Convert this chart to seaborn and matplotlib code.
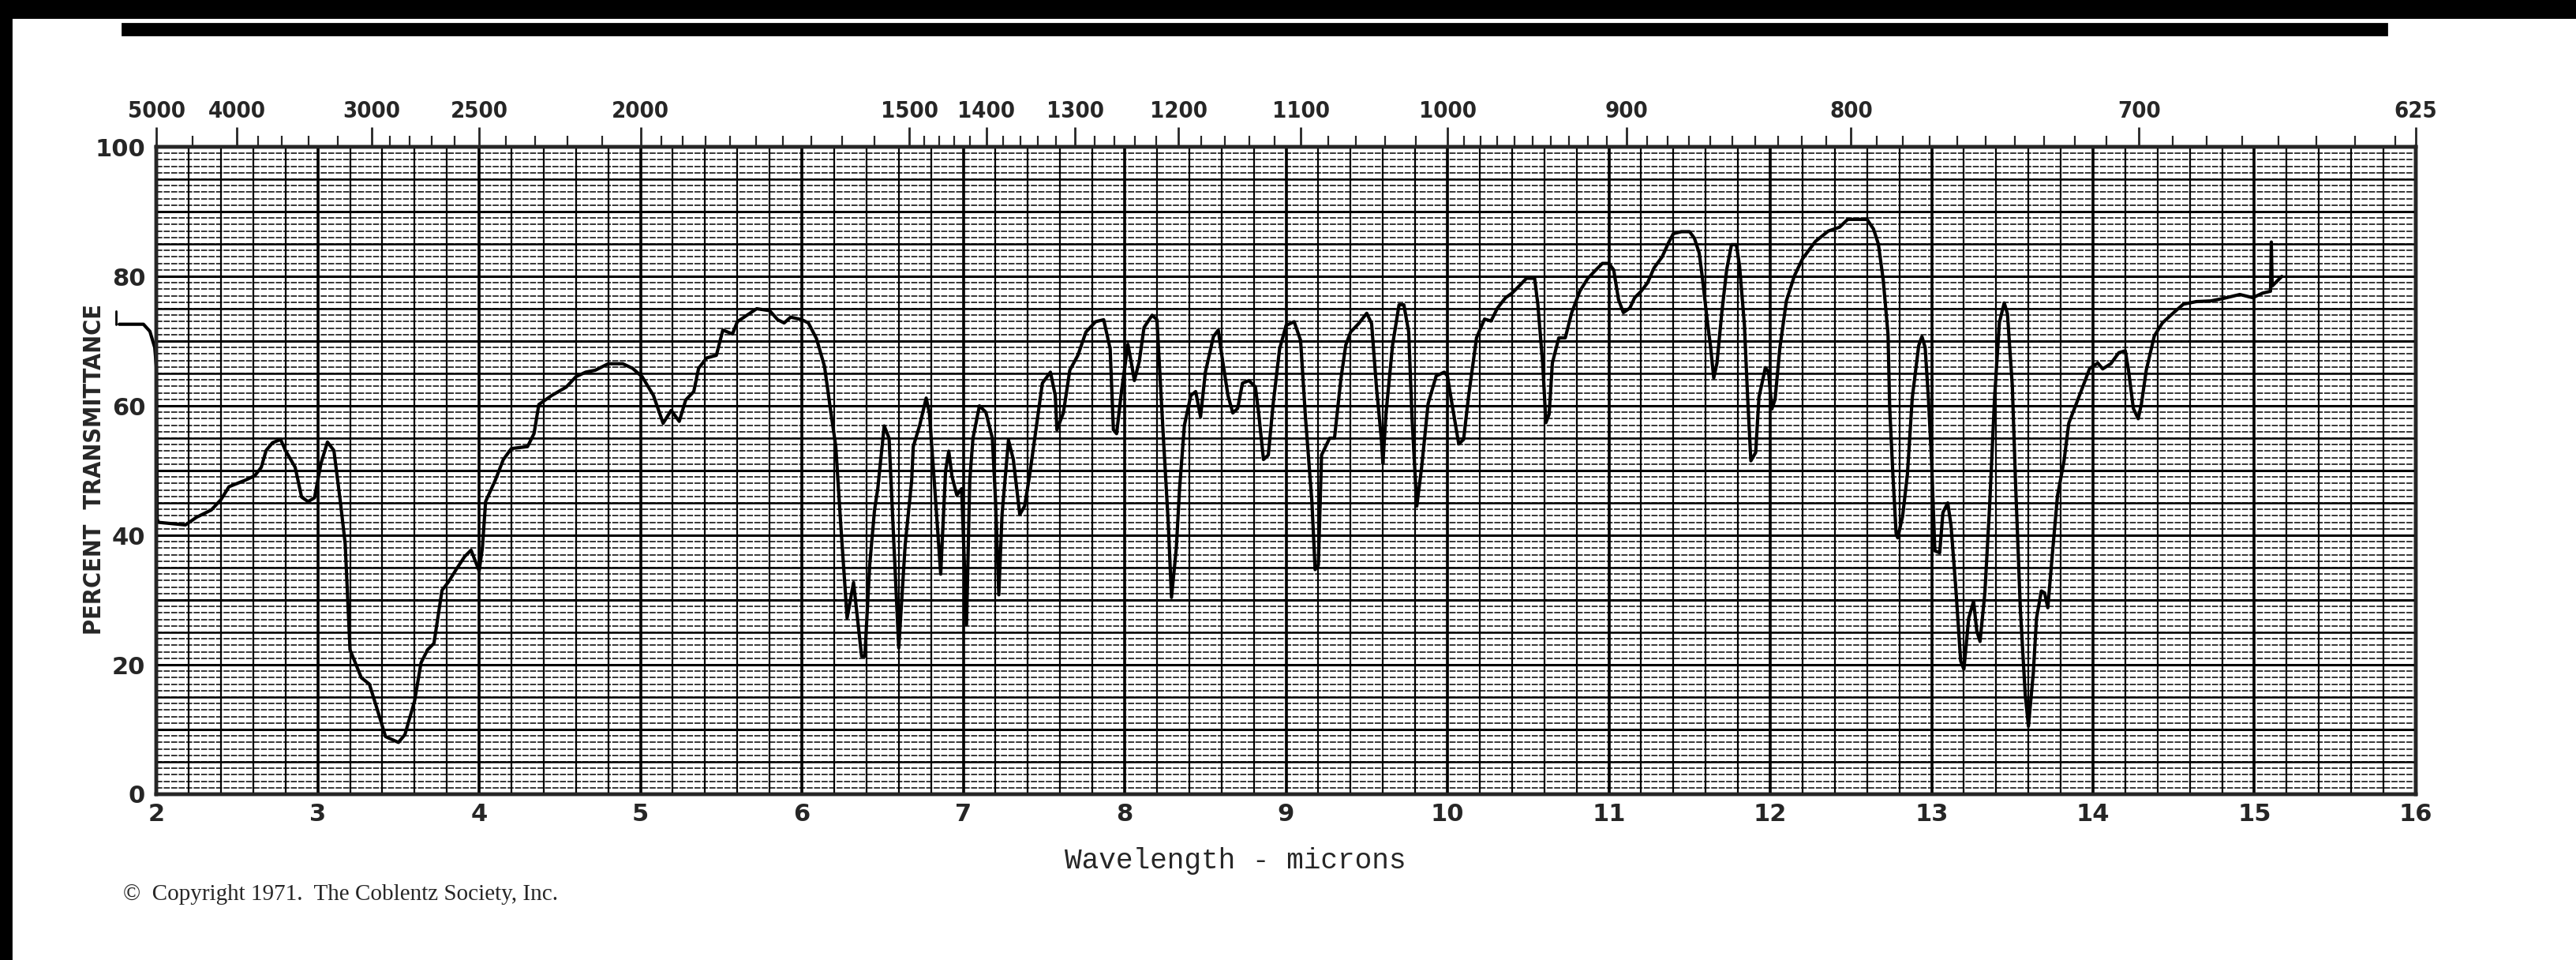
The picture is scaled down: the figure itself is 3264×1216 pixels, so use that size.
import numpy as np
import pandas as pd
import seaborn as sns
import matplotlib
matplotlib.use("Agg")
import matplotlib.pyplot as plt
from matplotlib.patches import Rectangle

# spectrum: wavelength (microns) / percent transmittance
wavelength = [
    1.77, 1.92, 1.96, 1.99, 2.0, 2.005, 2.013, 2.18, 2.25, 2.34, 2.40, 2.45, 2.55, 2.61, 2.65,
    2.68, 2.72, 2.77, 2.80, 2.86, 2.90, 2.94, 2.98, 3.02, 3.06, 3.10, 3.14, 3.17, 3.20, 3.27,
    3.32, 3.36, 3.42, 3.50, 3.54, 3.60, 3.64, 3.68, 3.72, 3.77, 3.81, 3.86, 3.91, 3.95,
    4.00, 4.02, 4.04, 4.10, 4.15, 4.20, 4.30, 4.34, 4.37, 4.45, 4.54, 4.60, 4.66, 4.72, 4.80,
    4.89, 4.95, 5.01, 5.08, 5.14, 5.19, 5.24, 5.28, 5.33, 5.36, 5.41, 5.47, 5.51, 5.57, 5.60,
    5.66, 5.72, 5.80, 5.85, 5.89, 5.93, 6.00,
    6.04, 6.09, 6.14, 6.18, 6.21, 6.24, 6.28, 6.32, 6.37, 6.39, 6.42, 6.45, 6.47, 6.51, 6.54,
    6.57, 6.60, 6.64, 6.68, 6.69, 6.73, 6.77, 6.79, 6.82, 6.86, 6.89, 6.91, 6.93, 6.96, 6.99,
    7.02, 7.04, 7.06, 7.10, 7.14, 7.18, 7.20, 7.22, 7.24, 7.28, 7.31, 7.35, 7.38, 7.41, 7.45,
    7.49, 7.54, 7.57, 7.58, 7.62, 7.66, 7.71, 7.76, 7.82, 7.87, 7.91, 7.93, 7.95, 7.98,
    8.02, 8.04, 8.06, 8.09, 8.12, 8.17, 8.20, 8.22, 8.24, 8.27, 8.29, 8.32, 8.34, 8.37, 8.41,
    8.44, 8.47, 8.50, 8.55, 8.58, 8.60, 8.64, 8.67, 8.70, 8.73, 8.77, 8.81, 8.83, 8.86, 8.89,
    8.92, 8.96, 9.00, 9.05, 9.09, 9.12, 9.16, 9.18, 9.20, 9.22, 9.27, 9.30, 9.34, 9.37, 9.40,
    9.45, 9.50, 9.53, 9.56, 9.59, 9.60, 9.62, 9.66, 9.70, 9.73, 9.76, 9.78, 9.81, 9.84, 9.88,
    9.93, 9.98,
    10.00, 10.03, 10.07, 10.10, 10.13, 10.18, 10.23, 10.27, 10.31, 10.36, 10.40, 10.44, 10.49,
    10.54, 10.56, 10.59, 10.61, 10.63, 10.65, 10.69, 10.73, 10.77, 10.82, 10.87, 10.92, 10.96,
    11.00, 11.03, 11.06, 11.09, 11.13, 11.16, 11.20, 11.24, 11.28, 11.33, 11.37, 11.40, 11.45,
    11.50, 11.53, 11.56, 11.58, 11.61, 11.63, 11.65, 11.67, 11.70, 11.73, 11.76, 11.79, 11.81,
    11.84, 11.86, 11.88, 11.91, 11.93, 11.97, 11.99,
    12.01, 12.03, 12.06, 12.10, 12.15, 12.20, 12.28, 12.36, 12.43, 12.48, 12.54, 12.60, 12.64,
    12.67, 12.70, 12.73, 12.74, 12.76, 12.78, 12.79, 12.82, 12.85, 12.88, 12.92, 12.94, 12.96,
    12.98, 13.00, 13.02, 13.05, 13.07, 13.10, 13.12, 13.15, 13.18, 13.20, 13.23, 13.26, 13.28,
    13.30, 13.33, 13.36, 13.39, 13.42, 13.45, 13.47, 13.50, 13.52, 13.55, 13.58, 13.60, 13.63,
    13.65, 13.68, 13.70, 13.72, 13.75, 13.78, 13.82, 13.85, 13.89, 13.93, 13.98,
    14.03, 14.06, 14.11, 14.16, 14.20, 14.22, 14.25, 14.28, 14.30, 14.33, 14.38, 14.43, 14.50,
    14.56, 14.64, 14.73, 14.81, 14.91, 14.99, 15.05, 15.10, 15.105, 15.11, 15.17,
]
transmittance = [
    72.6, 72.6, 71.5, 69.0, 66.0, 42.5, 42.0, 41.6, 42.8, 43.9, 45.5, 47.5, 48.5, 49.2, 50.5,
    53.1, 54.3, 54.8, 53.1, 50.5, 45.9, 45.2, 45.8, 51.1, 54.4, 53.1, 45.2, 38.7, 22.3, 18.0,
    17.0, 13.8, 8.9, 8.0, 9.2, 14.4, 20.3, 22.3, 23.3, 31.5, 32.8, 34.8, 36.7, 37.7,
    34.5, 38.0, 45.2, 48.5, 51.7, 53.4, 53.7, 55.7, 60.2, 61.6, 62.9, 64.5, 65.2, 65.5, 66.5,
    66.5, 65.8, 64.5, 61.6, 57.3, 59.3, 57.6, 60.9, 62.2, 65.8, 67.4, 67.8, 71.7, 71.1, 73.0,
    74.0, 75.0, 74.7, 73.3, 72.8, 73.7, 73.3,
    72.8, 70.4, 66.1, 58.9, 53.7, 41.9, 27.2, 32.7, 21.3, 21.3, 35.4, 43.9, 47.2, 56.9, 55.0,
    38.6, 22.6, 38.6, 48.4, 53.7, 57.0, 61.2, 58.9, 48.4, 34.0, 49.9, 53.0, 49.1, 46.2, 47.2,
    26.2, 48.5, 55.0, 60.0, 59.0, 55.0, 45.2, 30.8, 43.2, 54.7, 51.7, 43.2, 44.5, 49.1, 56.3,
    63.5, 65.2, 61.6, 56.3, 58.9, 65.5, 67.8, 71.4, 73.0, 73.3, 68.8, 56.3, 55.7, 62.2,
    69.5, 66.8, 63.9, 66.8, 72.1, 74.0, 73.3, 64.2, 55.0, 41.9, 30.4, 38.0, 47.2, 57.0, 61.6,
    62.2, 58.3, 65.2, 70.7, 71.7, 68.1, 61.6, 58.9, 59.6, 63.5, 63.9, 62.9, 58.9, 51.7, 52.4,
    60.3, 68.8, 72.4, 73.0, 70.1, 58.3, 45.2, 34.7, 35.4, 52.4, 55.0, 55.0, 64.2, 69.4, 71.4,
    72.7, 74.3, 72.7, 62.9, 55.0, 51.1, 59.0, 69.4, 75.6, 75.6, 71.4, 58.3, 44.5, 50.5, 60.3,
    64.6, 65.2,
    64.6, 60.0, 54.1, 54.8, 61.3, 70.5, 73.4, 73.1, 75.1, 76.7, 77.4, 78.4, 79.7,
    79.7, 75.7, 66.6, 57.4, 58.7, 66.6, 70.5, 70.5, 74.4, 77.7, 79.7, 81.0, 82.0,
    82.0, 81.0, 76.4, 74.4, 75.1, 76.7, 77.7, 79.0, 81.3, 83.0, 85.2, 86.6, 86.9,
    86.9, 85.9, 83.6, 79.7, 73.1, 69.2, 64.3, 66.6, 74.4, 81.0, 84.9, 84.9, 81.6,
    72.5, 61.3, 51.5, 52.8, 61.3, 65.9, 65.2,
    59.5, 61.0, 69.0, 76.2, 80.1, 82.7, 85.4, 87.0, 87.6, 88.8, 88.8, 88.8, 87.3,
    85.0, 79.5, 71.0, 59.9, 49.4, 40.3, 39.6, 42.9, 49.4, 61.2, 69.3, 70.7, 69.0,
    61.2, 51.4, 37.6, 37.3, 43.5, 45.0, 41.6, 31.8, 20.6, 19.3, 27.2, 29.8, 25.2,
    23.6, 31.1, 44.8, 61.2, 72.9, 75.9, 74.2, 63.1, 48.1, 28.5, 15.4, 10.5, 18.7,
    27.2, 31.4, 31.1, 28.8, 37.6, 46.1, 51.4, 57.3, 59.9, 62.5, 65.8,
    66.6, 65.7, 66.5, 68.2, 68.5, 65.5, 59.6, 58.0, 60.3, 65.5, 70.8, 72.8, 74.4,
    75.7, 76.1, 76.2, 76.6, 77.2, 76.7, 77.4, 77.7, 85.3, 78.5, 80.0,
]

micron_labels = [str(v) for v in range(2, 17)]
wavenumber_labels = [5000, 4000, 3000, 2500, 2000, 1500, 1400, 1300, 1200, 1100, 1000, 900, 800, 700, 625]
percent_labels = [0, 20, 40, 60, 80, 100]

df = pd.DataFrame({"wavelength": wavelength, "transmittance": transmittance})

sns.set_style("white")
plt.rcParams['font.family'] = ['DejaVu Sans']

fig = plt.figure(figsize=(16.32, 6.08), dpi=200)
ax = fig.add_axes([0.0607, 0.1727, 0.8771, 0.6743])

# chart paper grid
ax.hlines(np.arange(1, 100), 2, 16, colors="black", linewidth=0.55,
          linestyles=(0, (5, 1.2)), zorder=1)
ax.hlines(np.arange(5, 100, 10), 2, 16, colors="black", linewidth=0.9, zorder=2)
ax.hlines(np.arange(10, 100, 10), 2, 16, colors="black", linewidth=1.1, zorder=2)
ax.vlines(np.arange(2.2, 16, 0.2), 0, 100, colors="black", linewidth=0.8, zorder=2)
ax.vlines(np.arange(3, 16, 1), 0, 100, colors="black", linewidth=1.3, zorder=2)

sns.lineplot(data=df, x="wavelength", y="transmittance", ax=ax, sort=False,
             estimator=None, color="black", linewidth=1.5, clip_on=False, zorder=5)
# pen mark left of the chart
ax.plot([1.75, 1.75], [72.6, 74.6], color="black", lw=1.0, clip_on=False)

ax.set_xlim(2, 16)
ax.set_ylim(0, 100)
ax.set_xlabel("")
ax.set_ylabel("")
ax.set_xticks(range(2, 17))
ax.set_xticklabels(micron_labels)
ax.set_yticks(percent_labels)
ax.set_yticklabels([str(v) for v in percent_labels])
ax.tick_params(axis="both", length=0, labelsize=11)
ax.tick_params(axis="x", pad=4)
ax.tick_params(axis="y", pad=5)
for t in ax.get_xticklabels() + ax.get_yticklabels():
    t.set_fontweight("bold")
for s in ax.spines.values():
    s.set_linewidth(1.6)
    s.set_color("black")

# wavenumber scale on top
top = ax.twiny()
top.set_xlim(2, 16)
top.set_xticks([1e4 / w for w in wavenumber_labels])
top.set_xticklabels([str(w) for w in wavenumber_labels])
minor_wn = ([4500, 3800, 3600, 3400, 3200]
            + [w for w in range(2900, 2000, -100) if w != 2500]
            + list(range(1950, 1500, -50))
            + [w for w in range(1480, 1000, -20) if w % 100 != 0]
            + [w for w in range(990, 625, -10) if w % 100 != 0])
top.set_xticks([1e4 / w for w in minor_wn], minor=True)
top.tick_params(axis="x", which="major", direction="out", length=9, width=1.0,
                pad=2, labelsize=10.5)
top.tick_params(axis="x", which="minor", direction="out", length=5, width=0.8)
for t in top.get_xticklabels():
    t.set_fontweight("bold")
    t.set_fontstretch("condensed")
for s in top.spines.values():
    s.set_linewidth(1.6)

fig.text(0.0365, 0.5107, "PERCENT  TRANSMITTANCE", rotation=90, ha="center",
         va="center", fontsize=11, fontweight="bold", fontstretch="condensed")
fig.text(0.4794, 0.1028, "Wavelength - microns", ha="center", va="center",
         fontsize=13, family=["Liberation Mono", "DejaVu Sans Mono"])
fig.text(0.0478, 0.0680, "\u00a9  Copyright 1971.  The Coblentz Society, Inc.", ha="left",
         va="center", fontsize=10.5, family=["Liberation Serif", "DejaVu Serif"])

# scan border
fig.add_artist(Rectangle((0, 0.9815), 1, 0.0185, transform=fig.transFigure,
                         color="black", zorder=10))
fig.add_artist(Rectangle((0.0475, 0.9635), 0.879, 0.012, transform=fig.transFigure,
                         color="black", zorder=10))
fig.add_artist(Rectangle((0, 0), 0.0043, 1, transform=fig.transFigure,
                         color="black", zorder=10))

fig.savefig("out.png", dpi=200, facecolor="white")
